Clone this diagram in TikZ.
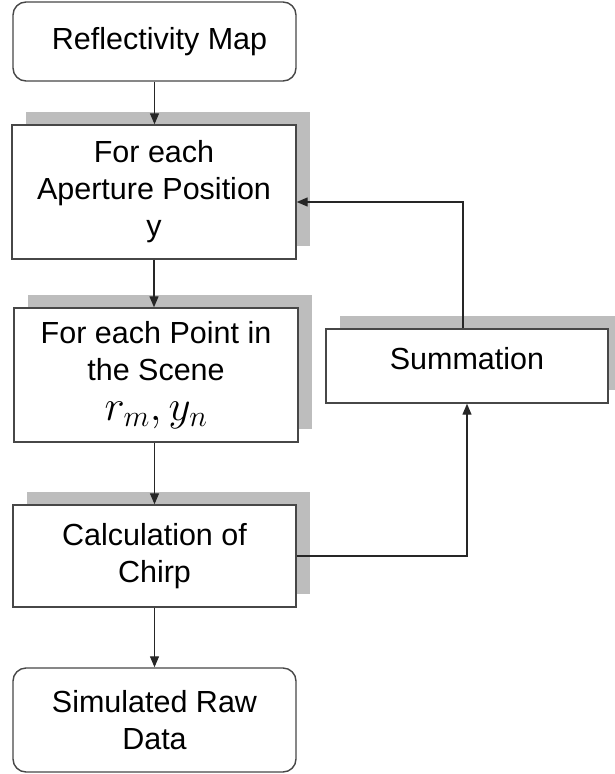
\documentclass[tikz,border=0pt]{standalone}
\usepackage{fix-cm}
\usepackage{fontspec}
\setmainfont{Liberation Sans}
\usetikzlibrary{arrows.meta,shadows}
\begin{document}
\begin{tikzpicture}[x=1pt,y=-1pt,
  basebox/.style={draw=black!72, line width=1.4pt, fill=white, inner sep=0pt,
    align=center, font=\fontsize{30.5}{37}\selectfont},
  shadowbox/.style={basebox, drop shadow={shadow xshift=14pt, shadow yshift=13pt,
    fill=black!26, opacity=1}},
  roundbox/.style={basebox, rounded corners=13pt},
  conn/.style={line width=1.3pt, draw=black!85, -{Triangle[length=11pt,width=9pt]}}
]
\useasboundingbox (0,0) rectangle (614,774);

\node[roundbox, minimum width=283pt, minimum height=79pt] (refl) at (154.5,41.5)
  {\hspace*{10pt}Reflectivity Map};
\node[shadowbox, minimum width=284pt, minimum height=134pt] (aper) at (154,192)
  {For each\\Aperture Position\\y};
\node[shadowbox, minimum width=284pt, minimum height=134pt] (point) at (156,375)
  {For each Point in\\the Scene\\[3pt]{\fontsize{43}{37}\selectfont$r_m, y_n$}};
\node[shadowbox, minimum width=283pt, minimum height=102pt] (calc) at (154.5,556)
  {Calculation of\\Chirp};
\node[shadowbox, minimum width=282pt, minimum height=74pt, text depth=16pt] (summ) at (467,366)
  {Summation};
\node[roundbox, minimum width=283pt, minimum height=104pt] (sim) at (154.5,720)
  {Simulated Raw\\Data};

\draw[conn] (refl.south) -- (refl.south |- aper.north);
\draw[conn] (aper.south) -- (aper.south |- point.north);
\draw[conn] (calc.north |- point.south) -- (calc.north);
\draw[conn] (calc.south) -- (sim.north);
\draw[conn] (calc.east) -| (summ.south);
\draw[conn] ([xshift=-4pt]summ.north) |- ([yshift=-10pt]aper.east);
\end{tikzpicture}
\end{document}
